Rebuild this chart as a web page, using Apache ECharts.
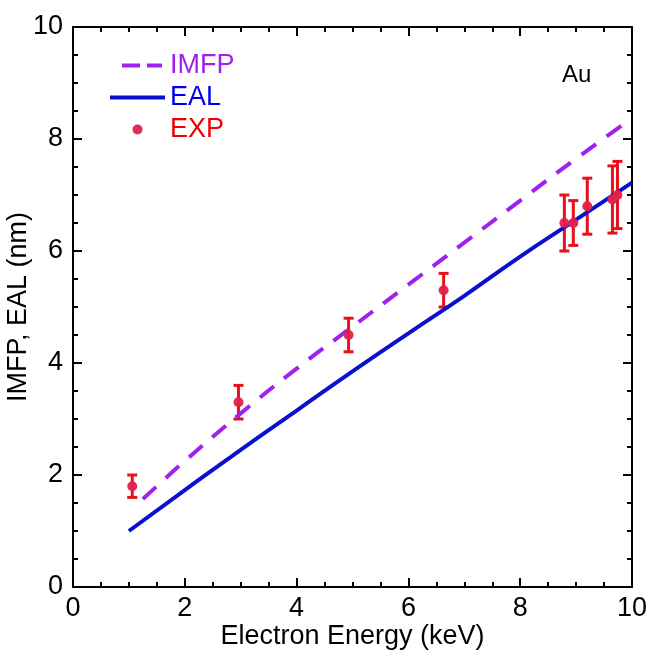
<!DOCTYPE html>
<html>
<head>
<meta charset="utf-8">
<script src="https://cdn.jsdelivr.net/npm/echarts@6/dist/echarts.min.js"></script>
<style>html,body{margin:0;padding:0;background:#fff}#c{width:652px;height:652px}</style>
</head>
<body>
<div id="c"></div>
<script>
// IMFP curve (dashed)
const imfpX = [1.25, 1.5, 2, 3, 4, 5, 6, 7, 8, 9, 10];
const imfpY = [1.57, 1.80, 2.25, 3.1, 3.9, 4.65, 5.4, 6.15, 6.9, 7.65, 8.37];
// EAL curve (solid)
const ealX = [1, 2, 3, 4, 5, 6, 7, 8, 9, 10];
const ealY = [1.0, 1.73, 2.45, 3.15, 3.85, 4.53, 5.2, 5.9, 6.56, 7.22];
// Experimental points with error
const expX = [1.06, 2.96, 4.93, 6.63, 8.79, 8.95, 9.2, 9.65, 9.74];
const expY = [1.8, 3.3, 4.5, 5.3, 6.5, 6.5, 6.8, 6.92, 7.0];
const expErr = [0.2, 0.3, 0.3, 0.3, 0.5, 0.4, 0.5, 0.6, 0.6];
const xTicks = [0, 2, 4, 6, 8, 10];
const yTicks = [0, 2, 4, 6, 8, 10];

const FONT = 'Liberation Sans, Arial, sans-serif';
const zip = (a, b) => a.map((v, i) => [v, b[i]]);

const chart = echarts.init(document.getElementById('c'), null, {renderer: 'canvas'});
const axisCommon = {
  min: 0, max: 10, interval: 2,
  axisLine: {show: true, onZero: false, lineStyle: {color: '#000', width: 2}},
  axisTick: {show: true, inside: true, length: 9, lineStyle: {color: '#000', width: 2}},
  minorTick: {show: true, splitNumber: 4, length: 5, lineStyle: {color: '#000', width: 2}},
  splitLine: {show: false},
};
const option = {
  animation: false,
  backgroundColor: '#fff',
  grid: {left: 73, right: 20, top: 27, bottom: 65, containLabel: false, outerBoundsMode: 'none'},
  xAxis: [
    Object.assign({}, axisCommon, {
      type: 'value', position: 'bottom',
      name: 'Electron Energy (keV)', nameLocation: 'middle', nameGap: 36, nameMoveOverlap: false,
      nameTextStyle: {fontFamily: FONT, fontSize: 27, color: '#000'},
      axisLabel: {fontFamily: FONT, fontSize: 27, color: '#000', margin: 8,
        formatter: v => xTicks.includes(v) ? String(v) : ''}
    }),
    Object.assign({}, axisCommon, {
      type: 'value', position: 'top', axisLabel: {show: false}
    })
  ],
  yAxis: [
    Object.assign({}, axisCommon, {
      type: 'value', position: 'left',
      name: 'IMFP, EAL (nm)', nameLocation: 'middle', nameGap: 41, nameMoveOverlap: false,
      nameTextStyle: {fontFamily: FONT, fontSize: 27, color: '#000'},
      axisLabel: {fontFamily: FONT, fontSize: 27, color: '#000', margin: 10,
        formatter: v => yTicks.includes(v) ? String(v) : ''}
    }),
    Object.assign({}, axisCommon, {
      type: 'value', position: 'right', axisLabel: {show: false}
    })
  ],
  legend: {
    orient: 'vertical', left: 103, top: 47, itemWidth: 55, itemHeight: 10, itemGap: 5,
    textStyle: {fontFamily: FONT, fontSize: 27, lineHeight: 27},
    data: [
      {name: 'IMFP', itemStyle: {opacity: 0},
        lineStyle: {type: [0, 12, 18, 7, 15, 30], width: 4, cap: 'butt'},
        textStyle: {color: '#a020f0'}},
      {name: 'EAL', itemStyle: {opacity: 0}, lineStyle: {width: 4},
        textStyle: {color: '#0000ee'}},
      {name: 'EXP', icon: 'circle', itemStyle: {color: '#e3204d'}, textStyle: {color: '#ee0000'}}
    ]
  },
  graphic: [{
    type: 'text', left: 562, top: 63,
    style: {text: 'Au', fontFamily: FONT, fontSize: 24, fill: '#000'}
  }],
  series: [
    {
      name: 'IMFP', type: 'line', data: zip(imfpX, imfpY), smooth: true, symbol: 'none',
      lineStyle: {color: '#a020f0', width: 4, type: [18, 13]}, itemStyle: {color: '#a020f0'}
    },
    {
      name: 'EAL', type: 'line', data: zip(ealX, ealY), smooth: true, symbol: 'none',
      lineStyle: {color: '#0a10cf', width: 4}, itemStyle: {color: '#0a10cf'}
    },
    {
      name: 'EXPerr', type: 'custom',
      data: expX.map((x, i) => [x, expY[i] - expErr[i], expY[i] + expErr[i]]),
      renderItem: function (params, api) {
        const lo = api.coord([api.value(0), api.value(1)]);
        const hi = api.coord([api.value(0), api.value(2)]);
        const w = 5;
        const st = {stroke: '#e8101a', lineWidth: 3};
        return {type: 'group', children: [
          {type: 'line', shape: {x1: lo[0], y1: lo[1], x2: hi[0], y2: hi[1]}, style: st},
          {type: 'line', shape: {x1: lo[0] - w, y1: lo[1], x2: lo[0] + w, y2: lo[1]}, style: st},
          {type: 'line', shape: {x1: hi[0] - w, y1: hi[1], x2: hi[0] + w, y2: hi[1]}, style: st}
        ]};
      },
      z: 3
    },
    {
      name: 'EXP', type: 'scatter', data: zip(expX, expY), symbol: 'circle', symbolSize: 10,
      itemStyle: {color: '#e3204d', opacity: 0.95}, z: 4
    }
  ]
};
chart.setOption(option);
</script>
</body>
</html>
